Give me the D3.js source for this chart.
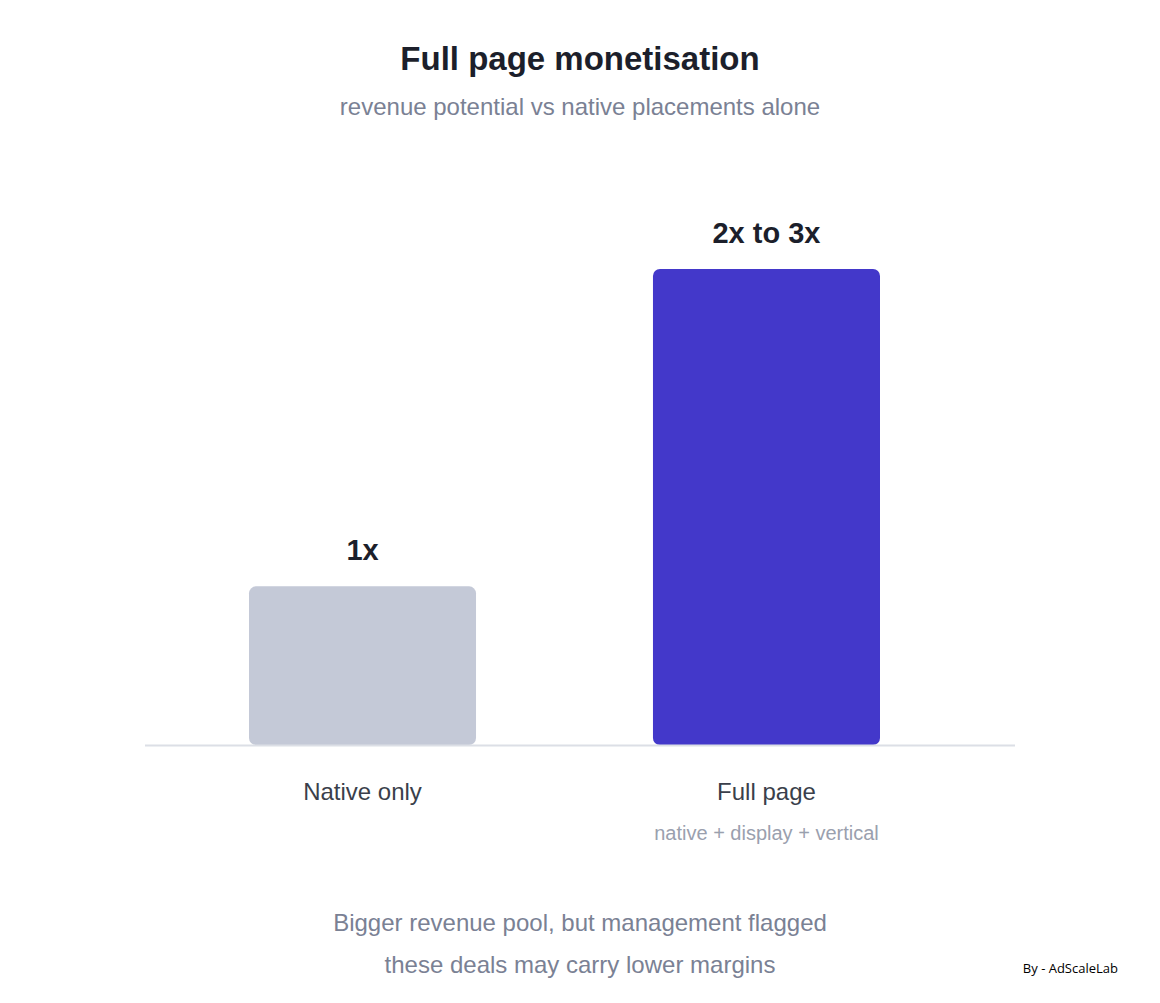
<!DOCTYPE html>
<html><head><meta charset="utf-8">
<script src="https://cdn.jsdelivr.net/npm/d3@7"></script>
<style>body{margin:0;background:#fff;font-family:"Liberation Sans",Arial,sans-serif;}</style>
</head><body>
<svg id="chart" width="1160" height="1003"></svg>
<script>
var categories = ["Native only", "Full page"];
var subLabels = ["", "native + display + vertical"];
var values = [1, 3];
var valueLabels = ["1x", "2x to 3x"];
var colors = ["#c4c9d7", "#4338ca"];

var svg = d3.select("#chart");

svg.append("text").attr("x", 580).attr("y", 70).attr("text-anchor", "middle")
  .attr("font-size", 33).attr("font-weight", "bold").attr("fill", "#1c1f2b")
  .text("Full page monetisation");
svg.append("text").attr("x", 580).attr("y", 115).attr("text-anchor", "middle")
  .attr("font-size", 24).attr("fill", "#7a8194")
  .text("revenue potential vs native placements alone");

var x = d3.scaleBand().domain(categories).range([249, 880])
  .paddingInner(0.438).paddingOuter(0);
var y = d3.scaleLinear().domain([0, 3]).range([745, 269]);

svg.selectAll("rect.bar").data(categories).enter().append("rect")
  .attr("class", "bar")
  .attr("x", function(d) { return x(d); })
  .attr("y", function(d, i) { return y(values[i]); })
  .attr("width", x.bandwidth())
  .attr("height", function(d, i) { return y(0) - y(values[i]); })
  .attr("rx", 7)
  .attr("fill", function(d, i) { return colors[i]; });

svg.append("line").attr("x1", 145).attr("x2", 1015).attr("y1", 745.5).attr("y2", 745.5)
  .attr("stroke", "#dcdfe6").attr("stroke-width", 2);

svg.selectAll("text.val").data(categories).enter().append("text")
  .attr("class", "val")
  .attr("x", function(d) { return x(d) + x.bandwidth() / 2; })
  .attr("y", function(d, i) { return y(values[i]) - 26; })
  .attr("text-anchor", "middle").attr("font-size", 29).attr("font-weight", "bold")
  .attr("fill", "#1c1f2b")
  .text(function(d, i) { return valueLabels[i]; });

svg.selectAll("text.cat").data(categories).enter().append("text")
  .attr("class", "cat")
  .attr("x", function(d) { return x(d) + x.bandwidth() / 2; })
  .attr("y", 800).attr("text-anchor", "middle").attr("font-size", 24)
  .attr("fill", "#3a3f4b").text(function(d) { return d; });

svg.selectAll("text.sub").data(categories).enter().append("text")
  .attr("class", "sub")
  .attr("x", function(d) { return x(d) + x.bandwidth() / 2; })
  .attr("y", 840).attr("text-anchor", "middle").attr("font-size", 20)
  .attr("fill", "#9aa0ae").text(function(d, i) { return subLabels[i]; });

svg.append("text").attr("x", 580).attr("y", 931).attr("text-anchor", "middle")
  .attr("font-size", 24).attr("fill", "#7a8194")
  .text("Bigger revenue pool, but management flagged");
svg.append("text").attr("x", 580).attr("y", 973).attr("text-anchor", "middle")
  .attr("font-size", 24).attr("fill", "#7a8194")
  .text("these deals may carry lower margins");

svg.append("text").attr("x", 1118).attr("y", 973).attr("text-anchor", "end")
  .attr("font-size", 13).attr("font-family", "'Open Sans',sans-serif").attr("fill", "#000")
  .text("By - AdScaleLab");
</script>
</body></html>
